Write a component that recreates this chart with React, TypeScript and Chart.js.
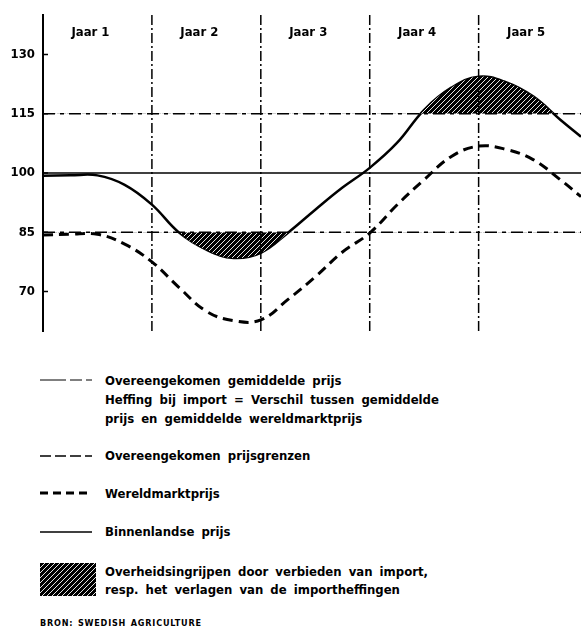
import React, { useEffect, useRef } from "react";
import { Chart, registerables } from "chart.js";

Chart.register(...registerables);

// ---- data ----
const yearLabels = ["Jaar 1", "Jaar 2", "Jaar 3", "Jaar 4", "Jaar 5"];
const yTicks = [70, 85, 100, 115, 130];
const xPos = [0, 0.25, 0.5, 0.75, 1, 1.25, 1.5, 1.75, 2, 2.25, 2.5, 2.75, 3, 3.25, 3.5, 3.75, 4, 4.25, 4.5, 4.75, 4.94];
const domesticPrice = [99.3, 99.4, 99.4, 97, 92, 84.9, 80.6, 78.5, 79.8, 84.9, 90.7, 96.3, 101.3, 107.6, 116, 121.6, 124.4, 123, 119.4, 113.5, 109.2];
const worldPrice = [84.3, 84.5, 84.5, 82, 77.5, 71, 65, 62.6, 62.8, 68, 73.7, 80, 84.8, 91.9, 98.3, 104.2, 106.8, 106, 103.4, 98.3, 94];
const averagePrice = 100;
const priceLimits = [85, 115];
const yearDividers = [1, 2, 3, 4];
const X_MIN = 0;
const X_MAX = 4.94;
const Y_MIN = 60;
const Y_MAX = 140;

const FONT = "'DejaVu Sans Condensed', 'DejaVu Sans', sans-serif";

function makeHatch(): CanvasPattern | string {
  const c = document.createElement("canvas");
  c.width = 5;
  c.height = 5;
  const g = c.getContext("2d");
  if (!g) return "#222";
  g.fillStyle = "#000";
  g.fillRect(0, 0, 5, 5);
  g.strokeStyle = "#fff";
  g.lineWidth = 0.9;
  g.beginPath();
  g.moveTo(-1, 6);
  g.lineTo(6, -1);
  g.stroke();
  const p = g.createPattern(c, "repeat");
  return p || "#222";
}

const overlayPlugin = {
  id: "overlay",
  afterDraw(chart: any) {
    const { ctx, scales, chartArea } = chart;
    const x = scales.x;
    const y = scales.y;
    ctx.save();
    ctx.fillStyle = "#000";
    ctx.font = `bold 13px ${FONT}`;
    ctx.textAlign = "center";
    ctx.textBaseline = "middle";
    yearLabels.forEach((lab, i) => {
      ctx.fillText(lab, x.getPixelForValue(i + 0.5) - 7, 33);
    });
    ctx.strokeStyle = "#000";
    ctx.lineWidth = 1.5;
    yTicks.forEach((v) => {
      const py = y.getPixelForValue(v);
      ctx.beginPath();
      ctx.moveTo(chartArea.left, py);
      ctx.lineTo(chartArea.left + 5, py);
      ctx.stroke();
    });
    ctx.restore();
  },
};

function ChartView() {
  const ref = useRef<HTMLCanvasElement | null>(null);
  useEffect(() => {
    if (!ref.current) return;
    const hatch = makeHatch();
    const pts = (ys: number[]) => xPos.map((xv, i) => ({ x: xv, y: ys[i] }));
    const hline = (v: number) => [
      { x: X_MIN, y: v },
      { x: X_MAX, y: v },
    ];
    const vline = (v: number) => [
      { x: v, y: Y_MIN },
      { x: v, y: Y_MAX },
    ];
    const datasets: any[] = [];
    yearDividers.forEach((d) => {
      datasets.push({
        data: vline(d),
        borderColor: "#000",
        borderWidth: 1.5,
        borderDash: [10, 3, 2, 3],
        pointRadius: 0,
        fill: false,
      });
    });
    datasets.push({
      data: hline(averagePrice),
      borderColor: "#000",
      borderWidth: 1.5,
      pointRadius: 0,
      fill: false,
    });
    priceLimits.forEach((v) => {
      datasets.push({
        data: hline(v),
        borderColor: "#000",
        borderWidth: 1.5,
        borderDash: [12, 5, 4, 5],
        pointRadius: 0,
        fill: false,
      });
    });
    // shaded areas
    datasets.push({
      data: pts(domesticPrice),
      borderWidth: 0,
      borderColor: "rgba(0,0,0,0)",
      pointRadius: 0,
      tension: 0.4,
      fill: { target: { value: priceLimits[0] }, above: "rgba(0,0,0,0)", below: hatch },
    });
    datasets.push({
      data: pts(domesticPrice),
      borderWidth: 0,
      borderColor: "rgba(0,0,0,0)",
      pointRadius: 0,
      tension: 0.4,
      fill: { target: { value: priceLimits[1] }, above: hatch, below: "rgba(0,0,0,0)" },
    });
    datasets.push({
      data: pts(worldPrice),
      borderColor: "#000",
      borderWidth: 3,
      borderDash: [10, 6],
      pointRadius: 0,
      tension: 0.4,
      fill: false,
    });
    datasets.push({
      data: pts(domesticPrice),
      borderColor: "#000",
      borderWidth: 2.5,
      pointRadius: 0,
      tension: 0.4,
      fill: false,
    });

    const chart = new Chart(ref.current, {
      type: "line",
      data: { datasets },
      plugins: [overlayPlugin],
      options: {
        animation: false,
        responsive: false,
        devicePixelRatio: 1,
        layout: { padding: { top: 15, bottom: 9, left: 0, right: 0 } },
        plugins: { legend: { display: false }, tooltip: { enabled: false } },
        scales: {
          x: { type: "linear", min: X_MIN, max: X_MAX, display: false },
          y: {
            type: "linear",
            min: Y_MIN,
            max: Y_MAX,
            afterBuildTicks: (s: any) => {
              s.ticks = yTicks.map((v) => ({ value: v }));
            },
            afterFit: (s: any) => {
              s.width = 43;
              s.paddingTop = 0;
              s.paddingBottom = 0;
            },
            grid: { display: true, drawOnChartArea: false, drawTicks: false },
            border: { display: true, color: "#000", width: 2 },
            ticks: {
              color: "#000",
              padding: 8,
              font: { family: FONT, size: 13, weight: "bold" },
            },
          },
        },
      } as any,
    });
    return () => chart.destroy();
  }, []);
  return <canvas ref={ref} width={581} height={340} style={{ position: "absolute", left: 0, top: 0 }} />;
}

const txt: React.CSSProperties = {
  position: "absolute",
  fontFamily: FONT,
  fontWeight: "bold",
  fontSize: 13,
  lineHeight: "19px",
  color: "#000",
  whiteSpace: "nowrap",
  wordSpacing: 3,
  margin: 0,
};

function Sample({ y, dash, w }: { y: number; dash?: string; w: number }) {
  return (
    <svg style={{ position: "absolute", left: 38, top: y - 5 }} width={58} height={10}>
      <line x1={2} y1={5} x2={54} y2={5} stroke="#000" strokeWidth={w} strokeDasharray={dash} />
    </svg>
  );
}

export default function App() {
  return (
    <div style={{ position: "absolute", left: 0, top: 0, width: 581, height: 628, background: "#fff", overflow: "hidden" }}>
      <ChartView />
      <Sample y={380} dash="26 4 12 4" w={1} />
      <div style={{ ...txt, left: 105, top: 371 }}>Overeengekomen gemiddelde prijs</div>
      <div style={{ ...txt, left: 105, top: 390 }}>Heffing bij import = Verschil tussen gemiddelde</div>
      <div style={{ ...txt, left: 105, top: 409 }}>prijs en gemiddelde wereldmarktprijs</div>

      <Sample y={456} dash="11 4" w={1.3} />
      <div style={{ ...txt, left: 105, top: 446 }}>Overeengekomen prijsgrenzen</div>

      <Sample y={493} dash="8 5" w={3} />
      <div style={{ ...txt, left: 105, top: 484 }}>Wereldmarktprijs</div>

      <Sample y={532} w={1.5} />
      <div style={{ ...txt, left: 105, top: 522 }}>Binnenlandse prijs</div>

      <svg style={{ position: "absolute", left: 40, top: 563 }} width={56} height={33}>
        <defs>
          <pattern id="hatch" width={5} height={5} patternUnits="userSpaceOnUse">
            <rect width={5} height={5} fill="#000" />
            <line x1={-1} y1={6} x2={6} y2={-1} stroke="#fff" strokeWidth={0.9} />
          </pattern>
        </defs>
        <rect x={0} y={0} width={56} height={33} fill="url(#hatch)" />
      </svg>
      <div style={{ ...txt, left: 105, top: 562 }}>Overheidsingrijpen door verbieden van import,</div>
      <div style={{ ...txt, left: 105, top: 580 }}>resp. het verlagen van de importheffingen</div>

      <div style={{ ...txt, left: 40, top: 617, fontSize: 9, lineHeight: "12px", letterSpacing: 0.8, wordSpacing: 1 }}>BRON: SWEDISH AGRICULTURE</div>
    </div>
  );
}
